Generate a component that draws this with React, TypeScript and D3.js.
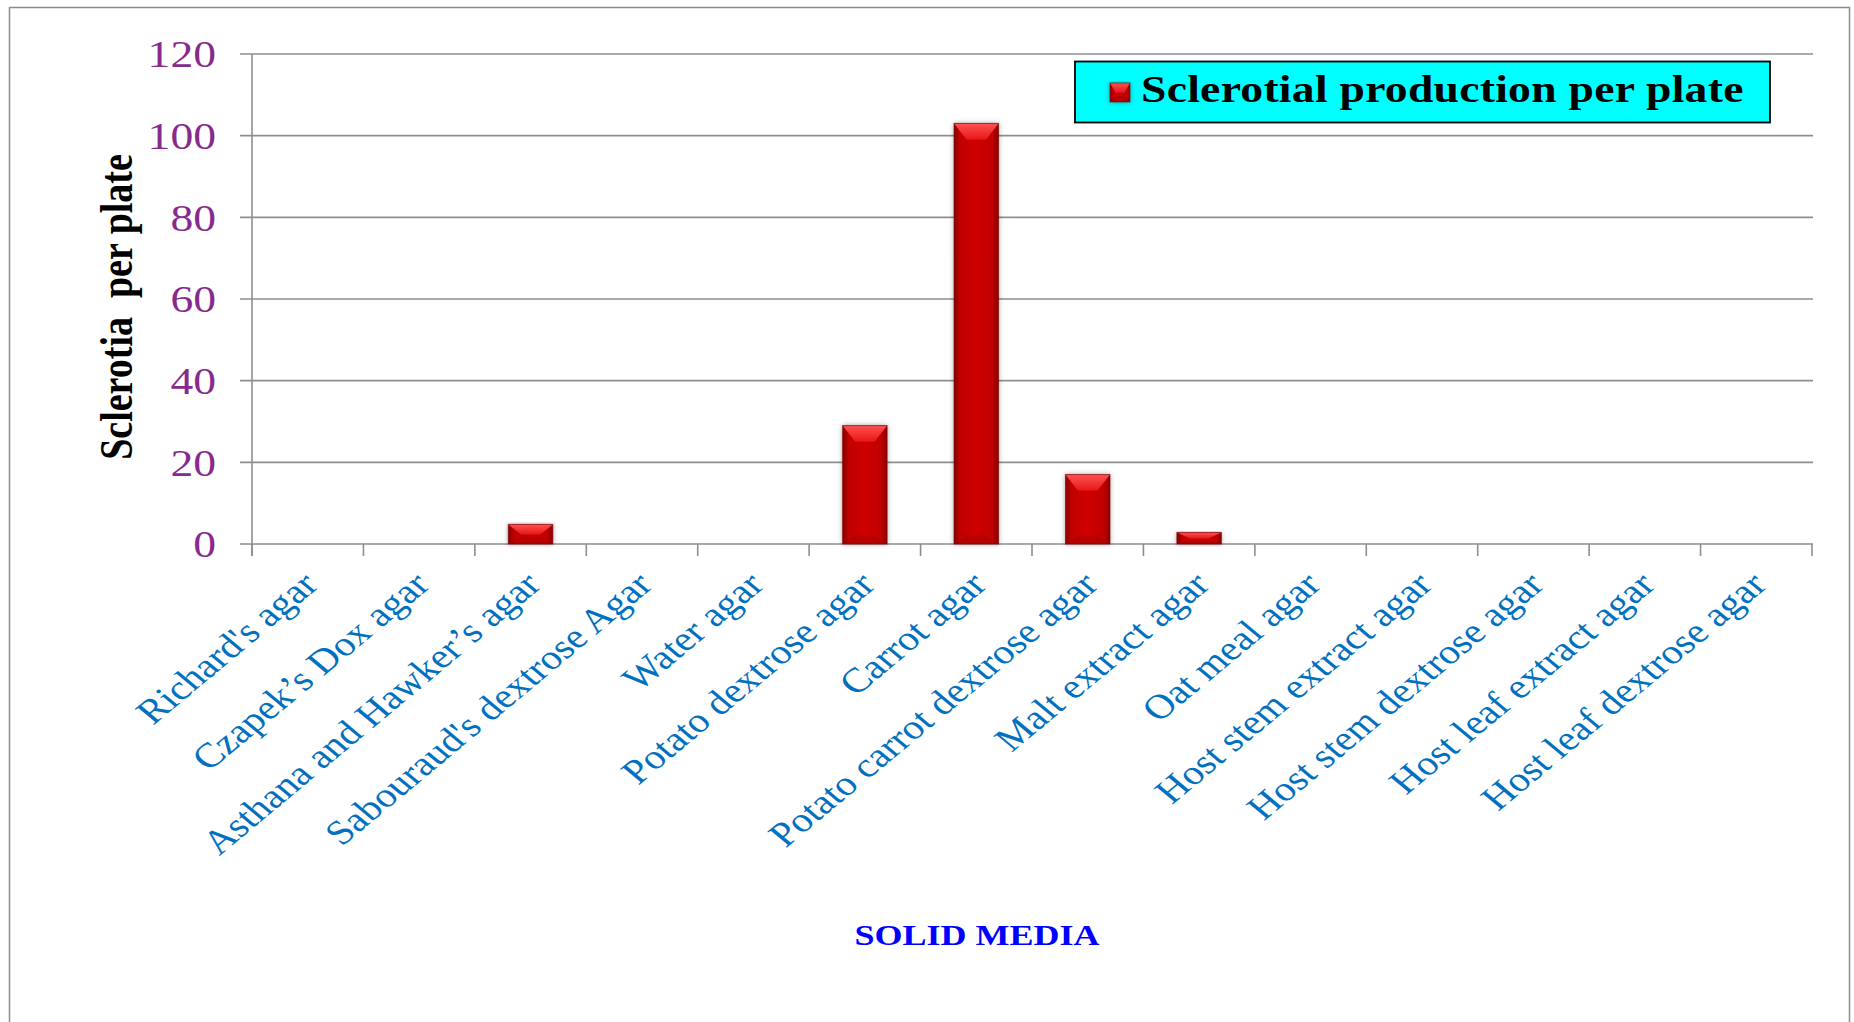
import React from "react";
import * as d3 from "d3";

const categories = [
  "Richard's agar",
  "Czapek\u2019s Dox agar",
  "Asthana and Hawker\u2019s agar",
  "Sabouraud's dextrose Agar",
  "Water agar",
  "Potato dextrose agar",
  "Carrot agar",
  "Potato carrot dextrose agar",
  "Malt extract agar",
  "Oat meal agar",
  "Host stem extract agar",
  "Host stem dextrose agar",
  "Host leaf extract agar",
  "Host leaf dextrose agar",
];
const sclerotiaValues = [0, 0, 4.8, 0, 0, 29, 103, 17, 2.8, 0, 0, 0, 0, 0];
const yTicks = [0, 20, 40, 60, 80, 100, 120];
const seriesName = "Sclerotial production per plate";
const yTitle = "Sclerotia  per plate";
const xTitle = "SOLID MEDIA";

const W = 1854;
const H = 1022;
const SX = 1.2; // horizontal stretch of the original picture
const FONT = "'Liberation Serif', 'Times New Roman', serif";

export default function App() {
  const left = 252;
  const right = 1812;
  const top = 54;
  const bottom = 544;
  const x = d3.scaleBand<string>().domain(categories).range([left, right]).paddingInner(0.6).paddingOuter(0.3);
  const xb = d3.scaleBand<string>().domain(categories).range([left, right]).padding(0);
  const y = d3.scaleLinear().domain([0, 120]).range([bottom, top]);
  const bw = x.bandwidth();
  const boundaries = d3.range(categories.length + 1).map((i) => left + i * xb.step());

  const bar = (bx: number, by: number, w: number, h: number, key: string) => {
    if (h <= 0) return null;
    const b = Math.min(16, h / 2);
    const inset = w * 0.28;
    return (
      <g key={key} filter="url(#shadow)">
        <rect x={bx} y={by} width={w} height={h} fill="url(#barGrad)" />
        <polygon
          points={`${bx},${by} ${bx + w},${by} ${bx + w - inset},${by + b} ${bx + inset},${by + b}`}
          fill="url(#bevelTop)"
        />
        <polygon
          points={`${bx},${by + h} ${bx + w},${by + h} ${bx + w - inset},${by + h - Math.min(8, h / 3)} ${bx + inset},${by + h - Math.min(8, h / 3)}`}
          fill="#a80000"
          opacity={0.55}
        />
        <rect x={bx} y={by} width={w} height={h} fill="none" stroke="#7a0000" strokeWidth={1} opacity={0.6} />
      </g>
    );
  };

  return (
    <svg width={W} height={H} style={{ position: "absolute", left: 0, top: 0, background: "#fff" }}>
      <defs>
        <linearGradient id="barGrad" x1="0" x2="1" y1="0" y2="0">
          <stop offset="0%" stopColor="#8a0000" />
          <stop offset="14%" stopColor="#c00000" />
          <stop offset="50%" stopColor="#cf0505" />
          <stop offset="86%" stopColor="#c00000" />
          <stop offset="100%" stopColor="#8a0000" />
        </linearGradient>
        <linearGradient id="bevelTop" x1="0" x2="0" y1="0" y2="1">
          <stop offset="0%" stopColor="#ff5050" />
          <stop offset="100%" stopColor="#e81818" />
        </linearGradient>
        <filter id="shadow" x="-30%" y="-10%" width="160%" height="130%">
          <feDropShadow dx="0" dy="0" stdDeviation="2.5" floodColor="#000" floodOpacity="0.35" />
        </filter>
      </defs>

      {/* outer frame */}
      <rect x={9.5} y={7.5} width={1840} height={1040} fill="#fff" stroke="#8c8c8c" strokeWidth={1.5} />

      {/* gridlines */}
      {yTicks.map((t) => (
        <line key={"g" + t} x1={240} x2={right + 1} y1={y(t)} y2={y(t)} stroke="#8e8e8e" strokeWidth={1.6} />
      ))}
      {/* y axis */}
      <line x1={left} x2={left} y1={y(120)} y2={bottom + 12} stroke="#8e8e8e" strokeWidth={1.6} />
      {/* x ticks */}
      {boundaries.map((bx, i) => (
        <line key={"t" + i} x1={bx} x2={bx} y1={bottom} y2={bottom + 12} stroke="#8e8e8e" strokeWidth={1.6} />
      ))}

      {/* y tick labels */}
      {yTicks.map((t) => (
        <text
          key={"yl" + t}
          transform={`translate(216,${y(t)}) scale(${SX},1)`}
          textAnchor="end"
          dy="0.35em"
          fontFamily={FONT}
          fontSize={38}
          fill="#872a8e"
        >
          {t}
        </text>
      ))}

      {/* bars */}
      {categories.map((c, i) =>
        bar(x(c)!, y(sclerotiaValues[i]), bw, bottom - y(sclerotiaValues[i]), "b" + i)
      )}

      {/* x labels */}
      {categories.map((c) => (
        <text
          key={"xl" + c}
          transform={`translate(${xb(c)! + xb.bandwidth() / 2 + 2},${bottom + 34}) scale(${SX},1) rotate(-45)`}
          textAnchor="end"
          dy="0.35em"
          fontFamily={FONT}
          fontSize={34.5}
          fill="#0070c0"
        >
          {c}
        </text>
      ))}

      {/* y title */}
      <text
        transform={`translate(116,307) scale(${SX},1) rotate(-90)`}
        textAnchor="middle"
        dy="0.35em"
        fontFamily={FONT}
        fontWeight="bold"
        fontSize={38}
        fill="#000"
        style={{ whiteSpace: "pre" }}
      >
        {yTitle}
      </text>

      {/* x title */}
      <text
        transform={`translate(977,934) scale(${SX},1)`}
        textAnchor="middle"
        dy="0.35em"
        fontFamily={FONT}
        fontWeight="bold"
        fontSize={30}
        fill="#0000ff"
      >
        {xTitle}
      </text>

      {/* legend */}
      <rect x={1075} y={61.5} width={695} height={61} fill="#00ffff" stroke="#000" strokeWidth={1.8} />
      {bar(1110, 83, 20, 19, "legend")}
      <text
        transform={`translate(1141,102) scale(${SX},1)`}
        fontFamily={FONT}
        fontWeight="bold"
        fontSize={38}
        textLength={502}
        lengthAdjust="spacing"
        fill="#000"
      >
        {seriesName}
      </text>
    </svg>
  );
}
